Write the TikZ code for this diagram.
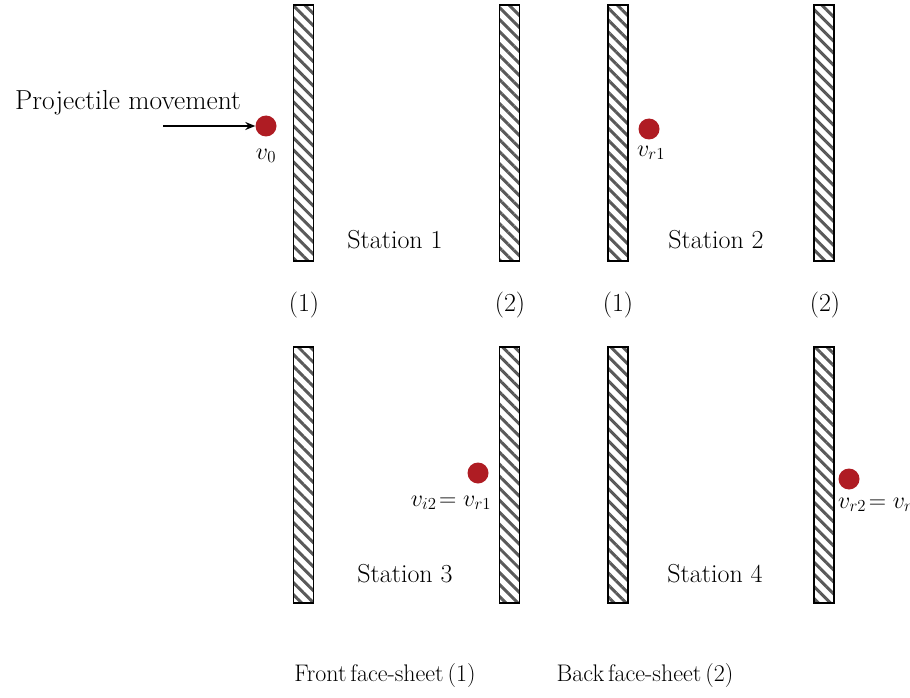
\documentclass[tikz,border=0pt]{standalone}
\usepackage{fix-cm}
\usepackage{fontspec}
\usetikzlibrary{patterns.meta,arrows.meta}
\definecolor{ballred}{RGB}{175,28,35}
\newcommand\mycapfont{\fontsize{24}{28}\selectfont\spaceskip=4pt\relax}
\begin{document}
\begin{tikzpicture}[x=1pt,y=-1pt,
  plate/.style={draw=black,line width=1.8pt,minimum width=20pt,minimum height=256pt,inner sep=0pt,
    pattern={Lines[angle=-45,distance=8.5pt,line width=3pt]},pattern color=black!65},
  ball/.style={circle,fill=ballred,minimum size=21pt,inner sep=0pt},
  txt/.style={font=\fontsize{26}{30}\selectfont,inner sep=0pt},
  ptxt/.style={font=\fontsize{27.5}{32}\selectfont,inner sep=0pt},
  ctxt/.style={font=\mycapfont,inner sep=0pt},
  mtxt/.style={font=\fontsize{24}{28}\selectfont,inner sep=0pt}]
\useasboundingbox (0,0) rectangle (910,698);
% plates
\node[plate] (p11) at (303.5,133) {};
\node[plate] (p12) at (509.5,133) {};
\node[plate] (p21) at (618,133) {};
\node[plate] (p22) at (824,133) {};
\node[plate] (p31) at (303.5,475) {};
\node[plate] (p32) at (509.5,475) {};
\node[plate] (p41) at (618,475) {};
\node[plate] (p42) at (824,475) {};
% plate numbers
\node[txt] (n1) at (304,305) {(1)};
\node[txt] (n2) at (510,305) {(2)};
\node[txt] (n3) at (618,305) {(1)};
\node[txt] (n4) at (825,305) {(2)};
% stations
\node[txt] (s1) at (395,240) {Station 1};
\node[txt] (s2) at (716,240) {Station 2};
\node[txt] (s3) at (405,574) {Station 3};
\node[txt] (s4) at (715,574) {Station 4};
% projectile
\node[ptxt] (proj) at (128,103) {Projectile movement};
\node[ball] (b0) at (266,126) {};
\coordinate (a0) at (163,126);
\draw[-{Stealth[length=10pt,width=8pt]},line width=1.4pt] (a0) -- (b0);
\node[mtxt] (v0) at (266,156) {$v_0$};
\node[ball] (b1) at (649,129) {};
\node[mtxt] (v1) at (651,153) {$v_{r1}$};
\node[ball] (b2) at (478,473) {};
\node[mtxt] (v2) at (451,503) {$v_{i2}\!=v_{r1}$};
\node[ball] (b3) at (849,479) {};
\node[mtxt,anchor=west] (v3) at (838,505) {$v_{r2}\!=v_{r}$};
% bottom captions
\node[ctxt] (f1) at (385,676) {Front face-sheet (1)};
\node[ctxt] (f2) at (645,676) {Back face-sheet (2)};
\end{tikzpicture}
\end{document}
